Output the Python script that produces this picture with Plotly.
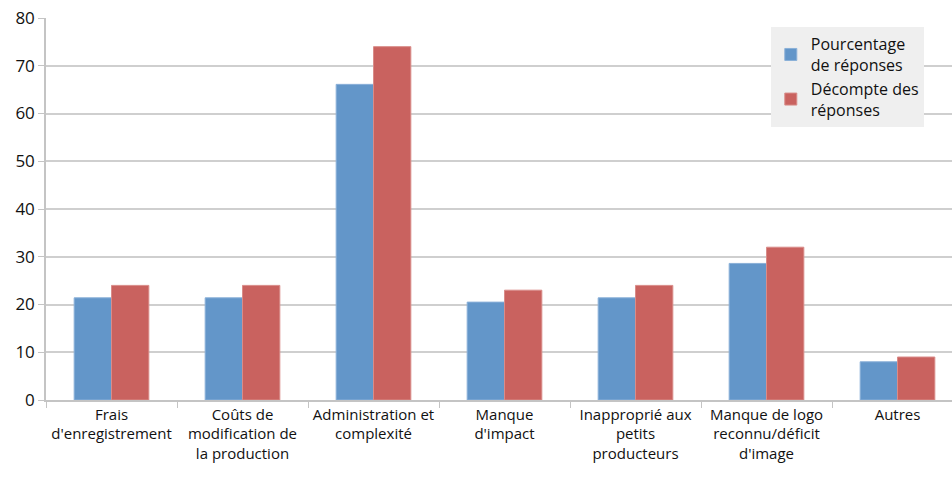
import plotly.graph_objects as go

categories = [
    "Frais<br>d'enregistrement",
    "Coûts de<br>modification de<br>la production",
    "Administration et<br>complexité",
    "Manque<br>d'impact",
    "Inapproprié aux<br>petits<br>producteurs",
    "Manque de logo<br>reconnu/déficit<br>d'image",
    "Autres",
]
pourcentage = [21.4, 21.4, 66.1, 20.5, 21.4, 28.6, 8.0]
decompte = [24, 24, 74, 23, 24, 32, 9]
y_ticks = [0, 10, 20, 30, 40, 50, 60, 70, 80]

fig = go.Figure()
fig.add_trace(go.Bar(
    x=categories, y=pourcentage, name="Pourcentage<br>de réponses",
    marker=dict(color="#6396C9", line=dict(color="#8AB0D8", width=1)),
))
fig.add_trace(go.Bar(
    x=categories, y=decompte, name="Décompte des<br>réponses",
    marker=dict(color="#C9625F", line=dict(color="#D98C89", width=1)),
))

fig.update_layout(
    width=952, height=477,
    margin=dict(l=46, r=0, t=18, b=77, autoexpand=False),
    paper_bgcolor="white", plot_bgcolor="white",
    barmode="group", bargap=0.43, bargroupgap=0,
    font=dict(family="Open Sans, Lato, sans-serif", size=15, color="#111111"),
    showlegend=True,
    legend=dict(
        x=0.80, y=0.976, xanchor="left", yanchor="top",
        bgcolor="#efefef", font=dict(size=16, color="#111111"),
        tracegroupgap=6, itemwidth=30,
    ),
    xaxis=dict(
        type="category", range=[-0.5, 6.416], automargin=False,
        showgrid=False, showline=True, linecolor="#c4c4c4", linewidth=1.5,
        ticks="outside", tickson="boundaries", ticklen=6, tickcolor="#c4c4c4",
        tickfont=dict(size=15, color="#111111"),
    ),
    yaxis=dict(
        range=[0, 80], tickvals=y_ticks, automargin=False,
        showgrid=True, gridcolor="#cfcfcf", gridwidth=1.5,
        showline=True, linecolor="#c4c4c4", linewidth=1.5,
        ticks="outside", ticklen=6, tickcolor="#c4c4c4",
        tickfont=dict(size=17, color="#111111"), zeroline=False,
    ),
)

fig.write_html(
    "out.html",
    config={"displayModeBar": False},
    post_script="document.body.style.margin='0px';",
)
